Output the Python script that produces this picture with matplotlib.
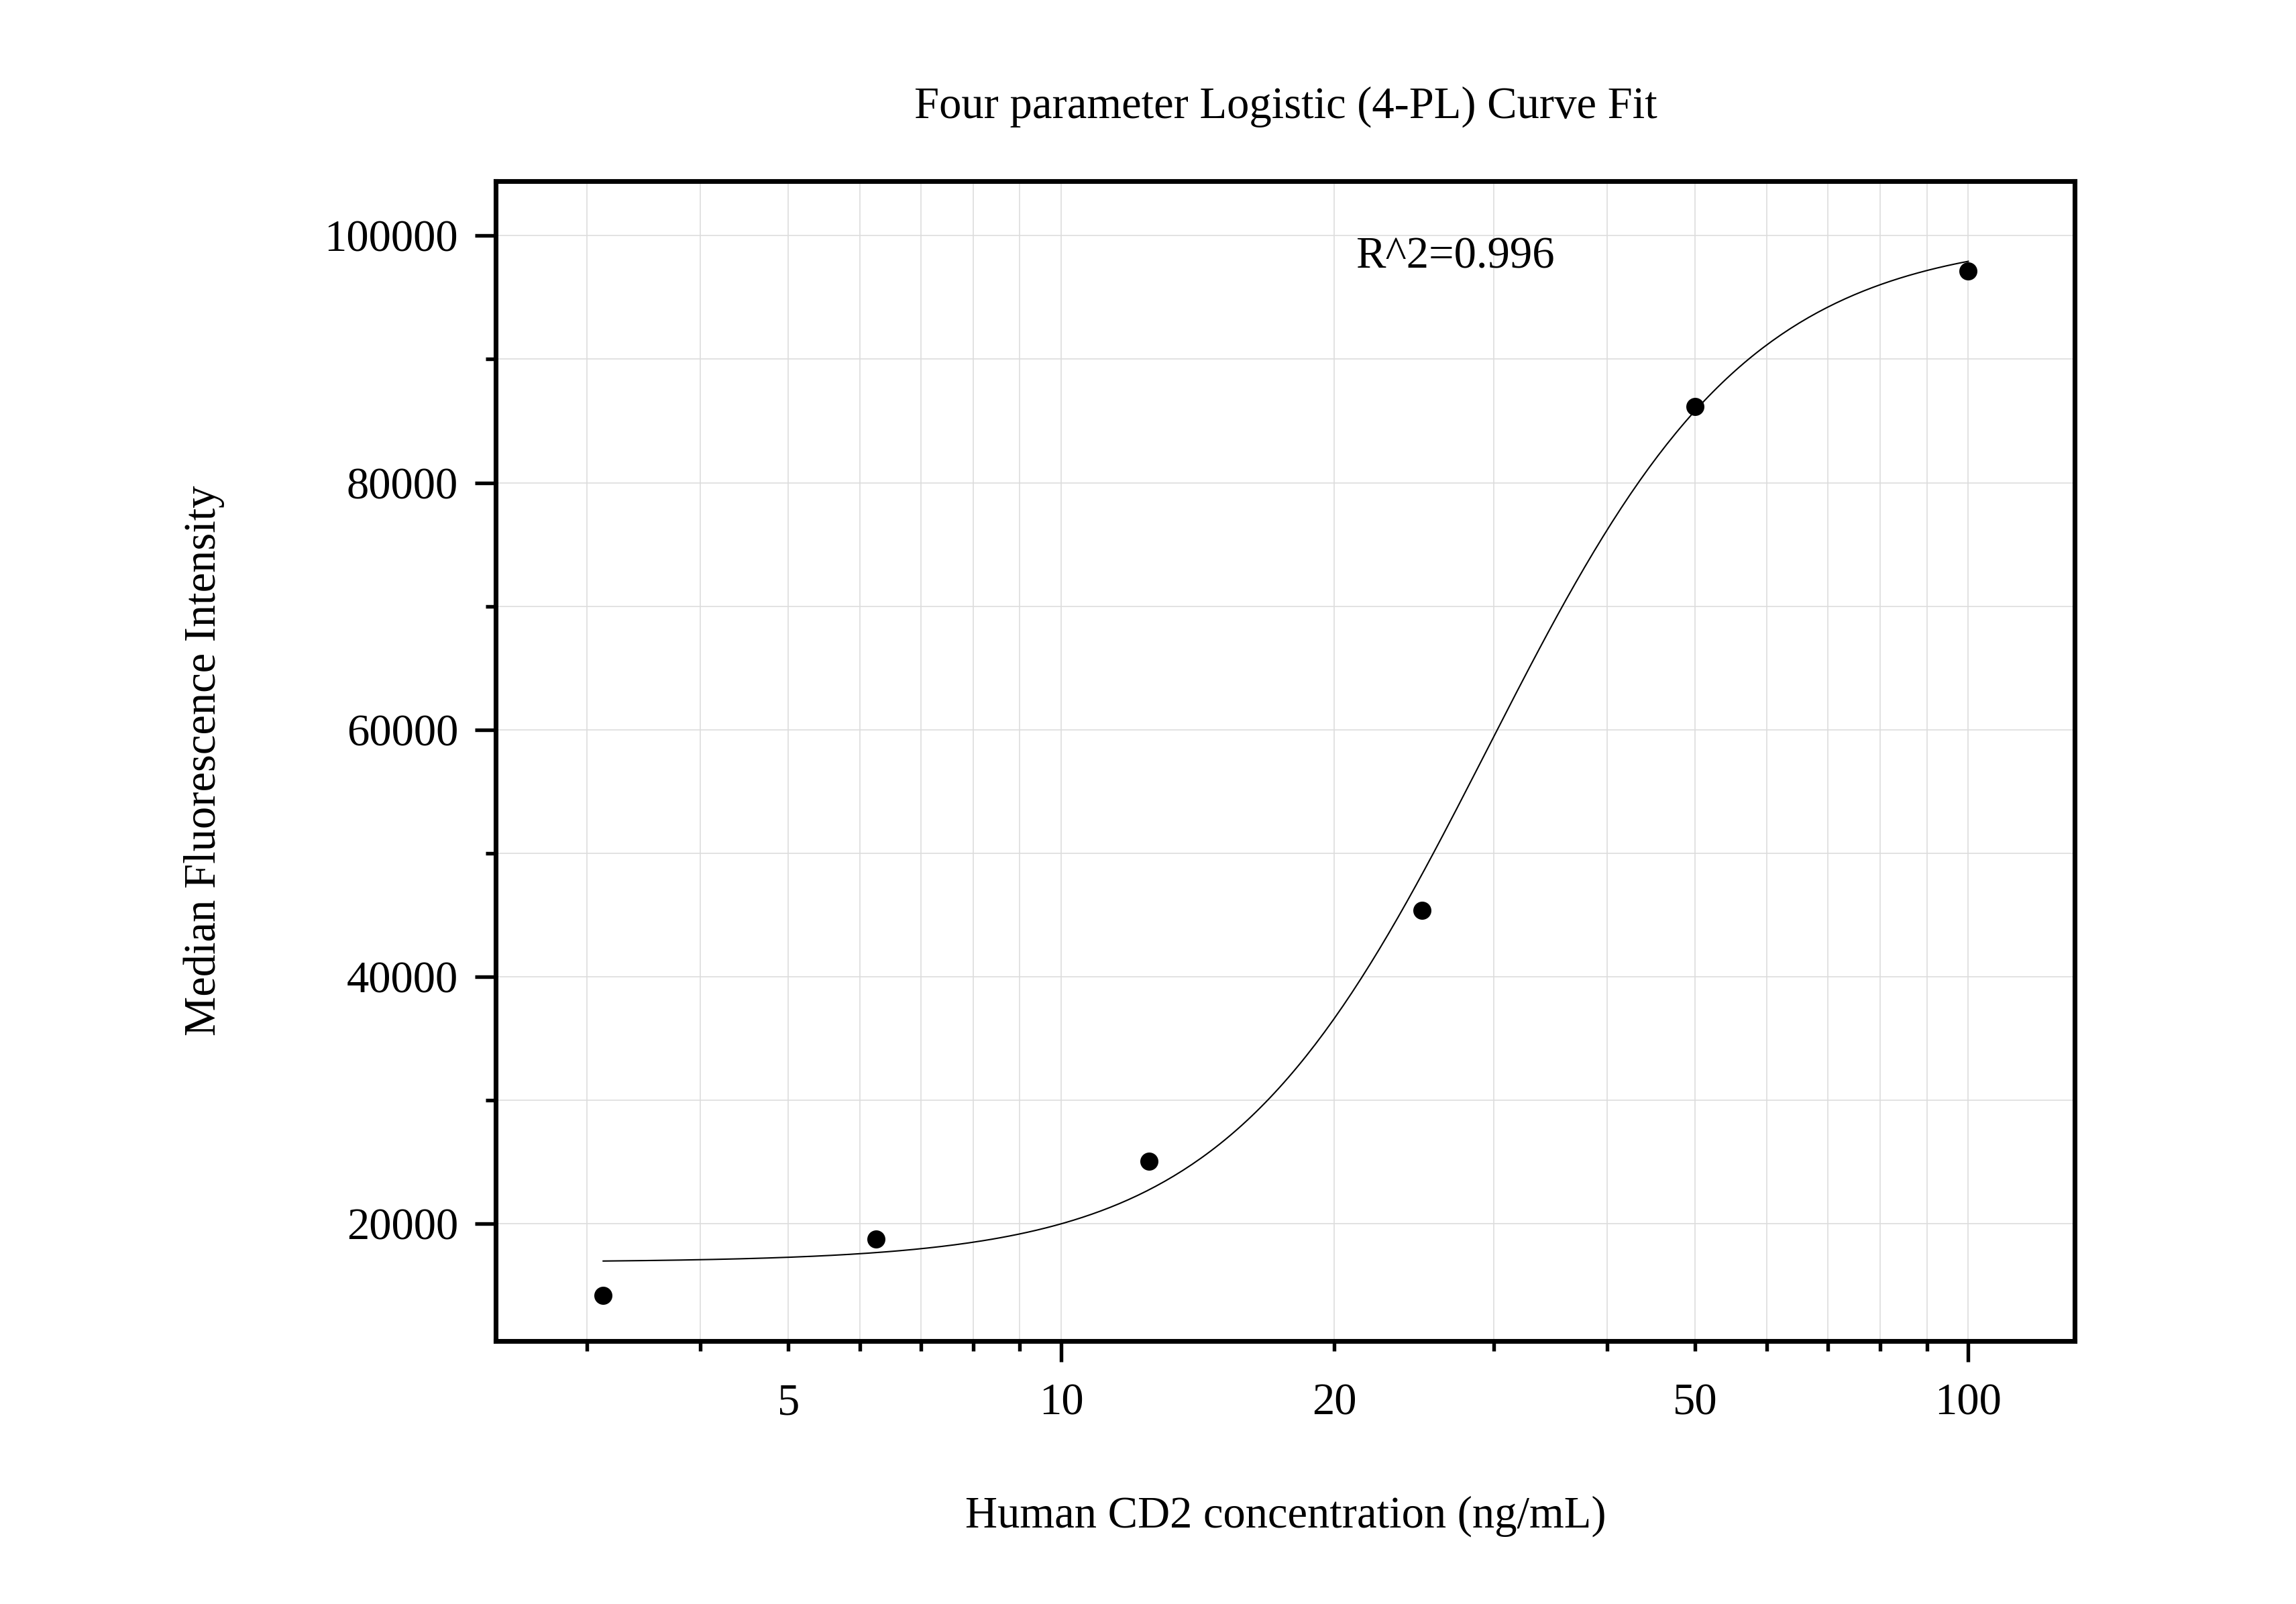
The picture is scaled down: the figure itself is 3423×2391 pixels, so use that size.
import numpy as np
import matplotlib
matplotlib.use("Agg")
import matplotlib.pyplot as plt
from matplotlib.ticker import FixedLocator, NullFormatter

plt.rcParams['font.family'] = ['Liberation Serif', 'DejaVu Serif']

# measured points
conc = [3.125, 6.25, 12.5, 25, 50, 100]
mfi = [14200, 18800, 25100, 45400, 86150, 97150]

# 4-PL fit parameters (bottom, top, EC50, hill slope)
fit_bottom = 16900
fit_top = 100000
fit_ec50 = 29.5
fit_slope = 3.0
r_squared = "R^2=0.996"

x_ticks = [5, 10, 20, 50, 100]
x_tick_labels = ["5", "10", "20", "50", "100"]

fig = plt.figure(figsize=(3423 / 300, 2391 / 300), dpi=300)
ax = fig.add_axes([0.216, 0.164, 0.6876, 0.723])

xs = np.logspace(np.log10(conc[0]), np.log10(conc[-1]), 300)
ys = fit_top + (fit_bottom - fit_top) / (1 + (xs / fit_ec50) ** fit_slope)
ax.plot(xs, ys, color='black', lw=0.5, zorder=3)
ax.scatter(conc, mfi, s=30, color='black', zorder=4)

ax.set_xscale('log')
ax.set_xlim(2.38, 131)
ax.set_ylim(10530, 104400)

ax.xaxis.set_major_locator(FixedLocator([10, 100]))
ax.xaxis.set_minor_locator(FixedLocator([3, 4, 5, 6, 7, 8, 9, 20, 30, 40, 50, 60, 70, 80, 90]))
ax.xaxis.set_major_formatter(NullFormatter())
ax.xaxis.set_minor_formatter(NullFormatter())
# labels on 5, 20, 50 (minor) and 10, 100 (major) all at one height
for xv, lab in zip(x_ticks, x_tick_labels):
    ax.text(xv, -0.054, lab, transform=ax.get_xaxis_transform(), ha='center', va='center', fontsize=16)

ax.yaxis.set_major_locator(FixedLocator([20000, 40000, 60000, 80000, 100000]))
ax.yaxis.set_minor_locator(FixedLocator([10000, 30000, 50000, 70000, 90000]))

ax.grid(True, which='both', color='#dddddd', lw=0.4, zorder=0)
ax.set_axisbelow(True)

ax.tick_params(which='major', direction='out', length=7.5, width=1.3, labelsize=16, pad=6)
ax.tick_params(which='minor', direction='out', length=3.5, width=1.3)
ax.tick_params(top=False, right=False)
for sp in ax.spines.values():
    sp.set_linewidth(1.7)

ax.text(21.1, 98300, r_squared, ha='left', va='center', fontsize=16)

fig.text(0.56, 0.9335, "Four parameter Logistic (4-PL) Curve Fit", ha='center', va='center', fontsize=16)
fig.text(0.56, 0.0545, "Human CD2 concentration (ng/mL)", ha='center', va='center', fontsize=16)
fig.text(0.089, 0.526, "Median Fluorescence Intensity", ha='center', va='center', rotation=90, fontsize=16)

fig.savefig("out.png", dpi=300)
